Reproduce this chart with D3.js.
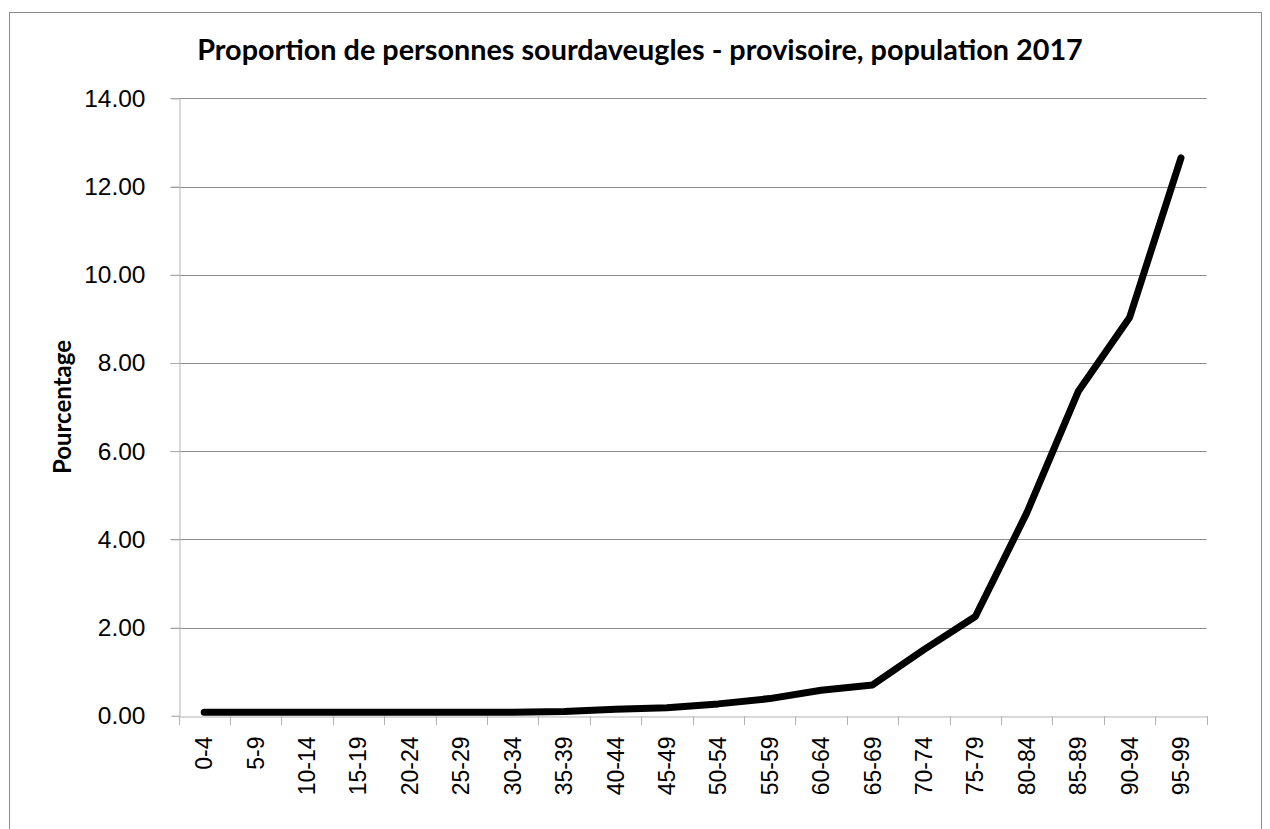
<!DOCTYPE html>
<html>
<head>
<meta charset="utf-8">
<script src="https://cdn.jsdelivr.net/npm/d3@7"></script>
<style>
  body { margin: 0; background: #fff; }
  svg { font-family: Lato, "Open Sans", sans-serif; }
</style>
</head>
<body>
<script>
const ageGroups = ["0-4","5-9","10-14","15-19","20-24","25-29","30-34","35-39","40-44","45-49",
  "50-54","55-59","60-64","65-69","70-74","75-79","80-84","85-89","90-94","95-99"];
const percentages = [0.08,0.08,0.08,0.08,0.08,0.08,0.08,0.1,0.15,0.18,
  0.27,0.39,0.58,0.7,1.5,2.25,4.6,7.35,9.03,12.65];
const yTicks = [0,2,4,6,8,10,12,14];
const chartTitle = "Proportion de personnes sourdaveugles - provisoire, population 2017";
const yLabel = "Pourcentage";

const width = 1270, height = 829;
const margin = {left: 178.5, right: 1270 - 1206.7, top: 98.3, bottom: 829 - 715.8};

const svg = d3.select("body").append("svg")
  .attr("width", width)
  .attr("height", height);

svg.append("rect")
  .attr("x", 9.5).attr("y", 12.5)
  .attr("width", 1252).attr("height", 830)
  .attr("fill", "none")
  .attr("stroke", "#8c8c8c");

const x = d3.scaleBand()
  .domain(ageGroups)
  .range([margin.left, width - margin.right]);

const y = d3.scaleLinear()
  .domain([0, 14])
  .range([height - margin.bottom, margin.top]);

// gridlines
svg.append("g")
  .selectAll("line")
  .data(yTicks.filter(d => d > 0))
  .enter().append("line")
    .attr("x1", margin.left - 8)
    .attr("x2", width - margin.right)
    .attr("y1", d => Math.round(y(d)) + 0.5)
    .attr("y2", d => Math.round(y(d)) + 0.5)
    .attr("stroke", "#8f8f8f");

// y axis
const yAxis = svg.append("g")
  .attr("transform", `translate(${Math.round(margin.left) + 0.5},0)`)
  .call(d3.axisLeft(y).tickValues(yTicks).tickFormat(d3.format(".2f")).tickSize(8).tickPadding(26));
yAxis.select(".domain").attr("stroke", "#b3b3b3");
yAxis.selectAll(".tick line").attr("stroke", "#b3b3b3");
yAxis.selectAll(".tick text")
  .attr("font-size", 24.5)
  .attr("fill", "#000");

// x axis
const xAxis = svg.append("g")
  .attr("transform", `translate(0,${Math.round(y(0)) + 0.5})`)
  .call(d3.axisBottom(x).tickSize(0).tickSizeOuter(0));
xAxis.select(".domain").attr("stroke", "#b3b3b3");
xAxis.selectAll(".tick line").remove();
xAxis.selectAll(".tick text")
  .attr("font-size", 23)
  .attr("fill", "#000")
  .attr("transform", "rotate(-90)")
  .attr("text-anchor", "end")
  .attr("x", -20)
  .attr("y", 0)
  .attr("dy", "0.35em");

// tick marks between categories
svg.append("g")
  .selectAll("line")
  .data(ageGroups.concat(["end"]))
  .enter().append("line")
    .attr("x1", (d, i) => Math.round(margin.left + i * x.step()) + 0.5)
    .attr("x2", (d, i) => Math.round(margin.left + i * x.step()) + 0.5)
    .attr("y1", Math.round(y(0)))
    .attr("y2", Math.round(y(0)) + 9)
    .attr("stroke", "#b3b3b3");

// line
const line = d3.line()
  .x((d, i) => x(ageGroups[i]) + x.bandwidth() / 2)
  .y(d => y(d));

svg.append("path")
  .datum(percentages)
  .attr("d", line)
  .attr("fill", "none")
  .attr("stroke", "#000")
  .attr("stroke-width", 7)
  .attr("stroke-linejoin", "round")
  .attr("stroke-linecap", "round");

svg.append("text")
  .attr("x", 640).attr("y", 60)
  .attr("text-anchor", "middle")
  .attr("font-size", 28.8)
  .attr("font-weight", "bold")
  .text(chartTitle);

svg.append("text")
  .attr("transform", `translate(71,${(margin.top + height - margin.bottom) / 2}) rotate(-90)`)
  .attr("text-anchor", "middle")
  .attr("font-size", 24)
  .attr("font-weight", "bold")
  .text(yLabel);
</script>
</body>
</html>
